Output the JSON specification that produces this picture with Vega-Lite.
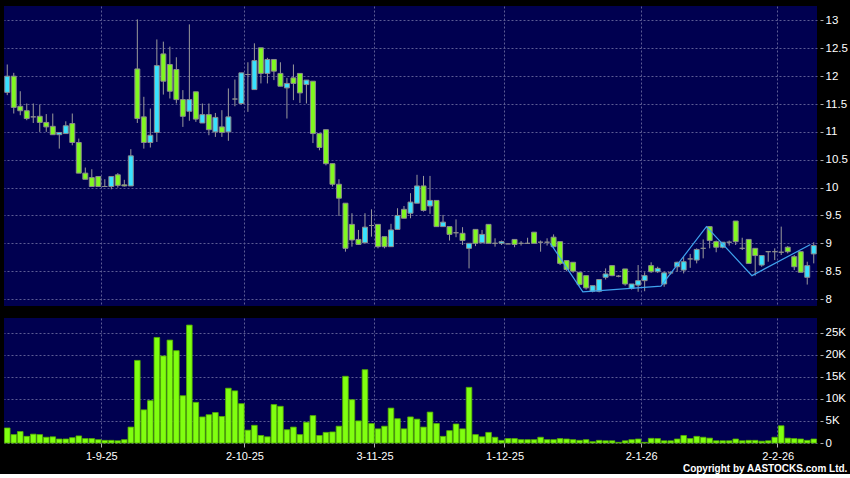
{
  "$schema": "https://vega.github.io/schema/vega-lite/v6.json",
  "background": "#000000",
  "padding": {"left": 4, "top": 6, "right": 2, "bottom": 0},
  "config": {
    "view": {"stroke": null, "fill": "#000050"},
    "font": "Liberation Sans",
    "axis": {"labelFont": "Liberation Sans", "titleFont": "Liberation Sans"}
  },
  "title": {"text": "Copyright by AASTOCKS.com Ltd.", "orient": "bottom", "anchor": "end", "color": "#ffffff", "fontSize": 10, "fontWeight": "bold", "offset": 3, "font": "Liberation Sans"},
  "spacing": 12,
  "datasets": {
    "px": [
      {"d":"2025-08-11","o":11.71,"h":12.21,"l":11.66,"c":12.0,"v":3400},
      {"d":"2025-08-12","o":12.0,"h":12.06,"l":11.33,"c":11.44,"v":1900},
      {"d":"2025-08-13","o":11.46,"h":11.73,"l":11.30,"c":11.38,"v":2600},
      {"d":"2025-08-14","o":11.38,"h":11.51,"l":11.21,"c":11.24,"v":1500},
      {"d":"2025-08-15","o":11.27,"h":11.51,"l":11.16,"c":11.27,"v":2000},
      {"d":"2025-08-18","o":11.28,"h":11.49,"l":11.0,"c":11.17,"v":1900},
      {"d":"2025-08-19","o":11.17,"h":11.32,"l":11.0,"c":11.09,"v":1300},
      {"d":"2025-08-20","o":11.10,"h":11.33,"l":10.95,"c":10.95,"v":1400},
      {"d":"2025-08-21","o":10.95,"h":10.99,"l":10.70,"c":10.99,"v":900},
      {"d":"2025-08-22","o":10.97,"h":11.19,"l":10.97,"c":11.11,"v":900},
      {"d":"2025-08-25","o":11.15,"h":11.33,"l":10.76,"c":10.81,"v":1200},
      {"d":"2025-08-26","o":10.81,"h":10.88,"l":10.26,"c":10.26,"v":1600},
      {"d":"2025-08-27","o":10.26,"h":10.36,"l":10.15,"c":10.15,"v":1000},
      {"d":"2025-08-28","o":10.18,"h":10.33,"l":10.02,"c":10.02,"v":1000},
      {"d":"2025-08-29","o":10.2,"h":10.2,"l":10.02,"c":10.02,"v":750},
      {"d":"2025-09-01","o":10.02,"h":10.15,"l":10.02,"c":10.02,"v":600},
      {"d":"2025-09-02","o":10.02,"h":10.2,"l":9.97,"c":10.2,"v":600},
      {"d":"2025-09-03","o":10.23,"h":10.26,"l":10.0,"c":10.04,"v":500},
      {"d":"2025-09-04","o":10.05,"h":10.14,"l":10.02,"c":10.03,"v":750},
      {"d":"2025-09-05","o":10.03,"h":10.69,"l":10.03,"c":10.57,"v":3600},
      {"d":"2025-09-08","o":12.13,"h":13.02,"l":11.16,"c":11.24,"v":18700},
      {"d":"2025-09-09","o":11.27,"h":11.63,"l":10.70,"c":10.81,"v":7500},
      {"d":"2025-09-10","o":10.81,"h":11.42,"l":10.72,"c":10.94,"v":9600},
      {"d":"2025-09-11","o":10.99,"h":12.66,"l":10.82,"c":12.19,"v":23900},
      {"d":"2025-09-12","o":12.40,"h":12.62,"l":11.67,"c":11.91,"v":19700},
      {"d":"2025-09-15","o":12.21,"h":12.53,"l":11.60,"c":11.73,"v":23300},
      {"d":"2025-09-16","o":12.12,"h":12.34,"l":11.51,"c":11.58,"v":20900},
      {"d":"2025-09-17","o":11.58,"h":11.75,"l":11.09,"c":11.28,"v":10700},
      {"d":"2025-09-18","o":11.37,"h":12.93,"l":11.2,"c":11.58,"v":26700},
      {"d":"2025-09-19","o":11.72,"h":11.72,"l":11.18,"c":11.23,"v":9200},
      {"d":"2025-09-22","o":11.16,"h":11.51,"l":11.16,"c":11.31,"v":5900},
      {"d":"2025-09-23","o":11.31,"h":11.51,"l":10.94,"c":11.04,"v":6400},
      {"d":"2025-09-24","o":11.0,"h":11.34,"l":10.91,"c":11.26,"v":6900},
      {"d":"2025-09-25","o":11.09,"h":11.39,"l":10.91,"c":10.99,"v":6000},
      {"d":"2025-09-26","o":11.0,"h":11.78,"l":10.84,"c":11.27,"v":12400},
      {"d":"2025-09-29","o":11.59,"h":11.94,"l":11.46,"c":11.59,"v":11800},
      {"d":"2025-09-30","o":11.51,"h":12.06,"l":11.49,"c":12.06,"v":8900},
      {"d":"2025-10-02","o":12.03,"h":12.25,"l":11.36,"c":12.03,"v":2900},
      {"d":"2025-10-03","o":11.76,"h":12.59,"l":11.76,"c":12.28,"v":4000},
      {"d":"2025-10-06","o":12.51,"h":12.51,"l":11.87,"c":12.05,"v":1700},
      {"d":"2025-10-08","o":12.05,"h":12.33,"l":11.87,"c":12.30,"v":1400},
      {"d":"2025-10-09","o":12.30,"h":12.30,"l":11.93,"c":12.09,"v":8700},
      {"d":"2025-10-10","o":12.05,"h":12.25,"l":11.82,"c":11.82,"v":8300},
      {"d":"2025-10-13","o":11.79,"h":11.97,"l":11.24,"c":11.87,"v":3000},
      {"d":"2025-10-14","o":11.97,"h":12.21,"l":11.57,"c":11.87,"v":3600},
      {"d":"2025-10-15","o":12.05,"h":12.05,"l":11.52,"c":11.70,"v":1900},
      {"d":"2025-10-16","o":11.85,"h":11.93,"l":11.51,"c":11.93,"v":4700},
      {"d":"2025-10-17","o":11.91,"h":11.91,"l":10.80,"c":10.97,"v":6200},
      {"d":"2025-10-20","o":10.97,"h":10.97,"l":10.67,"c":10.72,"v":1700},
      {"d":"2025-10-21","o":11.04,"h":11.04,"l":10.40,"c":10.43,"v":2400},
      {"d":"2025-10-22","o":10.43,"h":10.43,"l":10.02,"c":10.06,"v":2500},
      {"d":"2025-10-23","o":10.06,"h":10.15,"l":9.49,"c":9.81,"v":3800},
      {"d":"2025-10-24","o":9.72,"h":9.72,"l":8.85,"c":8.91,"v":15100},
      {"d":"2025-10-27","o":9.34,"h":9.54,"l":8.94,"c":9.06,"v":9800},
      {"d":"2025-10-28","o":9.07,"h":9.24,"l":8.97,"c":8.98,"v":5000},
      {"d":"2025-10-30","o":9.01,"h":9.54,"l":9.0,"c":9.29,"v":16600},
      {"d":"2025-10-31","o":9.32,"h":9.61,"l":9.12,"c":9.32,"v":4400},
      {"d":"2025-11-03","o":9.34,"h":9.34,"l":8.91,"c":8.94,"v":3200},
      {"d":"2025-11-04","o":9.12,"h":9.12,"l":8.91,"c":8.94,"v":3800},
      {"d":"2025-11-05","o":8.94,"h":9.35,"l":8.94,"c":9.24,"v":7900},
      {"d":"2025-11-06","o":9.25,"h":9.63,"l":9.25,"c":9.50,"v":5500},
      {"d":"2025-11-07","o":9.61,"h":9.67,"l":9.45,"c":9.45,"v":3200},
      {"d":"2025-11-10","o":9.54,"h":9.90,"l":9.45,"c":9.74,"v":5900},
      {"d":"2025-11-11","o":9.72,"h":10.23,"l":9.72,"c":10.03,"v":5400},
      {"d":"2025-11-12","o":10.03,"h":10.21,"l":9.57,"c":9.59,"v":3600},
      {"d":"2025-11-13","o":9.67,"h":10.21,"l":9.53,"c":9.77,"v":7000},
      {"d":"2025-11-14","o":9.77,"h":9.77,"l":9.30,"c":9.30,"v":4400},
      {"d":"2025-11-17","o":9.30,"h":9.51,"l":9.30,"c":9.38,"v":1500},
      {"d":"2025-11-18","o":9.30,"h":9.30,"l":9.05,"c":9.16,"v":2800},
      {"d":"2025-11-19","o":9.19,"h":9.43,"l":9.11,"c":9.19,"v":4300},
      {"d":"2025-11-20","o":9.18,"h":9.29,"l":8.97,"c":9.05,"v":3200},
      {"d":"2025-11-21","o":8.91,"h":9.0,"l":8.55,"c":9.0,"v":12600},
      {"d":"2025-11-24","o":9.25,"h":9.25,"l":8.95,"c":9.0,"v":1900},
      {"d":"2025-11-25","o":9.01,"h":9.24,"l":9.01,"c":9.16,"v":1400},
      {"d":"2025-11-26","o":9.34,"h":9.34,"l":9.0,"c":9.0,"v":2400},
      {"d":"2025-11-27","o":9.0,"h":9.09,"l":8.94,"c":9.0,"v":1300},
      {"d":"2025-11-28","o":9.0,"h":9.05,"l":8.97,"c":9.03,"v":600},
      {"d":"2025-12-01","o":8.99,"h":9.0,"l":8.99,"c":8.99,"v":1000},
      {"d":"2025-12-02","o":9.07,"h":9.07,"l":8.93,"c":8.98,"v":1000},
      {"d":"2025-12-03","o":9.0,"h":9.04,"l":8.96,"c":9.0,"v":750},
      {"d":"2025-12-04","o":9.0,"h":9.10,"l":9.0,"c":9.0,"v":750},
      {"d":"2025-12-05","o":9.20,"h":9.20,"l":9.0,"c":9.0,"v":750},
      {"d":"2025-12-08","o":9.02,"h":9.05,"l":8.85,"c":9.02,"v":1300},
      {"d":"2025-12-09","o":9.02,"h":9.09,"l":8.96,"c":9.02,"v":750},
      {"d":"2025-12-10","o":9.11,"h":9.16,"l":8.91,"c":8.94,"v":750},
      {"d":"2025-12-11","o":9.03,"h":9.03,"l":8.61,"c":8.64,"v":1000},
      {"d":"2025-12-12","o":8.69,"h":8.69,"l":8.50,"c":8.53,"v":900},
      {"d":"2025-12-15","o":8.66,"h":8.66,"l":8.47,"c":8.50,"v":750},
      {"d":"2025-12-16","o":8.48,"h":8.48,"l":8.24,"c":8.26,"v":600},
      {"d":"2025-12-17","o":8.42,"h":8.42,"l":8.17,"c":8.20,"v":750},
      {"d":"2025-12-18","o":8.14,"h":8.24,"l":8.12,"c":8.24,"v":300},
      {"d":"2025-12-19","o":8.14,"h":8.35,"l":8.12,"c":8.35,"v":600},
      {"d":"2025-12-22","o":8.39,"h":8.55,"l":8.35,"c":8.45,"v":500},
      {"d":"2025-12-23","o":8.60,"h":8.60,"l":8.41,"c":8.42,"v":500},
      {"d":"2025-12-24","o":8.41,"h":8.43,"l":8.39,"c":8.41,"v":150},
      {"d":"2025-12-29","o":8.54,"h":8.54,"l":8.24,"c":8.27,"v":500},
      {"d":"2025-12-30","o":8.19,"h":8.27,"l":8.17,"c":8.27,"v":750},
      {"d":"2025-12-31","o":8.25,"h":8.61,"l":8.13,"c":8.33,"v":900},
      {"d":"2026-01-02","o":8.33,"h":8.48,"l":8.14,"c":8.42,"v":150},
      {"d":"2026-01-05","o":8.60,"h":8.66,"l":8.47,"c":8.49,"v":1050},
      {"d":"2026-01-06","o":8.49,"h":8.58,"l":8.47,"c":8.55,"v":1000},
      {"d":"2026-01-07","o":8.27,"h":8.49,"l":8.22,"c":8.47,"v":500},
      {"d":"2026-01-08","o":8.47,"h":8.50,"l":8.44,"c":8.47,"v":500},
      {"d":"2026-01-09","o":8.58,"h":8.67,"l":8.49,"c":8.66,"v":900},
      {"d":"2026-01-12","o":8.52,"h":8.76,"l":8.46,"c":8.67,"v":1700},
      {"d":"2026-01-13","o":8.72,"h":8.81,"l":8.56,"c":8.72,"v":1000},
      {"d":"2026-01-14","o":8.70,"h":8.91,"l":8.64,"c":8.89,"v":1500},
      {"d":"2026-01-15","o":8.91,"h":9.07,"l":8.73,"c":8.91,"v":1300},
      {"d":"2026-01-16","o":9.30,"h":9.30,"l":8.91,"c":9.05,"v":1100},
      {"d":"2026-01-19","o":9.03,"h":9.05,"l":8.84,"c":8.93,"v":500},
      {"d":"2026-01-20","o":8.93,"h":9.02,"l":8.91,"c":9.02,"v":500},
      {"d":"2026-01-21","o":9.02,"h":9.05,"l":8.96,"c":9.02,"v":500},
      {"d":"2026-01-22","o":9.40,"h":9.40,"l":8.97,"c":9.03,"v":900},
      {"d":"2026-01-23","o":8.91,"h":9.10,"l":8.88,"c":8.91,"v":500},
      {"d":"2026-01-26","o":9.07,"h":9.07,"l":8.64,"c":8.64,"v":600},
      {"d":"2026-01-27","o":8.91,"h":8.91,"l":8.42,"c":8.78,"v":600},
      {"d":"2026-01-28","o":8.61,"h":8.78,"l":8.58,"c":8.78,"v":400},
      {"d":"2026-01-29","o":8.85,"h":8.85,"l":8.67,"c":8.85,"v":500},
      {"d":"2026-01-30","o":8.85,"h":8.91,"l":8.70,"c":8.85,"v":1300},
      {"d":"2026-02-02","o":8.84,"h":9.30,"l":8.79,"c":8.84,"v":3900},
      {"d":"2026-02-03","o":8.93,"h":8.95,"l":8.82,"c":8.85,"v":1100},
      {"d":"2026-02-04","o":8.76,"h":8.79,"l":8.52,"c":8.58,"v":1000},
      {"d":"2026-02-05","o":8.85,"h":8.85,"l":8.48,"c":8.48,"v":900},
      {"d":"2026-02-06","o":8.39,"h":8.67,"l":8.26,"c":8.60,"v":600},
      {"d":"2026-02-09","o":8.81,"h":9.02,"l":8.64,"c":8.96,"v":900}
    ],
    "zz": [
      {"d":"2025-12-10","p":9.0},
      {"d":"2025-12-17","p":8.13},
      {"d":"2026-01-07","p":8.23},
      {"d":"2026-01-16","p":9.3},
      {"d":"2026-01-27","p":8.42},
      {"d":"2026-02-09","p":8.98}
    ]
  },
  "vconcat": [
    {
      "width": 813,
      "height": 300,
      "encoding": {
        "x": {"field": "d", "type": "ordinal", "scale": {"type": "band", "paddingInner": 0, "paddingOuter": 0},
          "axis": {"values": ["2025-09-01","2025-10-02","2025-11-03","2025-12-01","2026-01-02","2026-02-02"], "bandPosition": 0, "labels": false, "ticks": false, "domain": false, "grid": true, "gridColor": "#5c5c94", "gridDash": [2,2], "gridWidth": 1, "title": null}}
      },
      "layer": [
        {
          "data": {"name": "px"},
          "mark": {"type": "rule", "color": "#9a9a9a", "strokeWidth": 1},
          "encoding": {
            "y": {"field": "l", "type": "quantitative", "scale": {"domain": [7.875, 13.26], "nice": false, "zero": false},
              "axis": {"orient": "right", "values": [8,8.5,9,9.5,10,10.5,11,11.5,12,12.5,13], "format": ".1~f", "labelOverlap": false, "grid": true, "gridColor": "#5c5c94", "gridDash": [2,2], "domain": false, "offset": 3, "tickColor": "#b0b0b0", "tickSize": 3, "labelColor": "#ffffff", "labelFontSize": 11.5, "labelPadding": 2, "title": null}},
            "y2": {"field": "h"}
          }
        },
        {
          "data": {"name": "px"},
          "mark": {"type": "bar", "width": {"band": 0.76}, "stroke": "#8c8c8c", "strokeWidth": 1},
          "encoding": {
            "y": {"field": "o", "type": "quantitative",
              "axis": {"orient": "right", "values": [8,8.5,9,9.5,10,10.5,11,11.5,12,12.5,13], "format": ".1~f", "labelOverlap": false, "grid": true, "gridColor": "#5c5c94", "gridDash": [2,2], "domain": false, "offset": 3, "tickColor": "#b0b0b0", "tickSize": 3, "labelColor": "#ffffff", "labelFontSize": 11.5, "labelPadding": 2, "title": null}},
            "y2": {"field": "c"},
            "fill": {"condition": [{"test": "datum.c > datum.o", "value": "#38e2ff"}, {"test": "datum.c == datum.o", "value": "#a0a0a0"}], "value": "#80f820"}
          }
        },
        {
          "data": {"name": "zz"},
          "mark": {"type": "line", "color": "#3fa2ee", "strokeWidth": 1.2},
          "encoding": {
            "x": {"field": "d", "type": "ordinal", "bandPosition": 0},
            "y": {"field": "p", "type": "quantitative",
              "axis": {"orient": "right", "values": [8,8.5,9,9.5,10,10.5,11,11.5,12,12.5,13], "format": ".1~f", "labelOverlap": false, "grid": true, "gridColor": "#5c5c94", "gridDash": [2,2], "domain": false, "offset": 3, "tickColor": "#b0b0b0", "tickSize": 3, "labelColor": "#ffffff", "labelFontSize": 11.5, "labelPadding": 2, "title": null}}
          }
        }
      ]
    },
    {
      "width": 813,
      "height": 125,
      "data": {"name": "px"},
      "mark": {"type": "bar", "width": {"band": 0.86}, "fill": "#80ff10", "stroke": "#56b000", "strokeWidth": 0.8},
      "encoding": {
        "x": {"field": "d", "type": "ordinal", "scale": {"type": "band", "paddingInner": 0, "paddingOuter": 0},
          "axis": {"values": ["2025-09-01","2025-10-02","2025-11-03","2025-12-01","2026-01-02","2026-02-02"], "bandPosition": 0, "labelExpr": "toNumber(substring(datum.value,8,10)) + '-' + toNumber(substring(datum.value,5,7)) + '-' + substring(datum.value,2,4)", "labelAngle": 0, "labelColor": "#ffffff", "labelFontSize": 11, "labelPadding": 3, "labelOffset": -3, "tickColor": "#b0b0b0", "tickSize": 4, "domain": false, "grid": true, "gridColor": "#5c5c94", "gridDash": [2,2], "title": null}},
        "y": {"field": "v", "type": "quantitative", "scale": {"domain": [0, 28300], "nice": false},
          "axis": {"orient": "right", "values": [0,5000,10000,15000,20000,25000], "labelOverlap": false, "labelExpr": "datum.value == 0 ? '0' : (datum.value/1000) + 'K'", "grid": true, "gridColor": "#5c5c94", "gridDash": [2,2], "domain": false, "offset": 3, "tickColor": "#b0b0b0", "tickSize": 3, "labelColor": "#ffffff", "labelFontSize": 11.5, "labelPadding": 2, "title": null}}
      }
    }
  ]
}
